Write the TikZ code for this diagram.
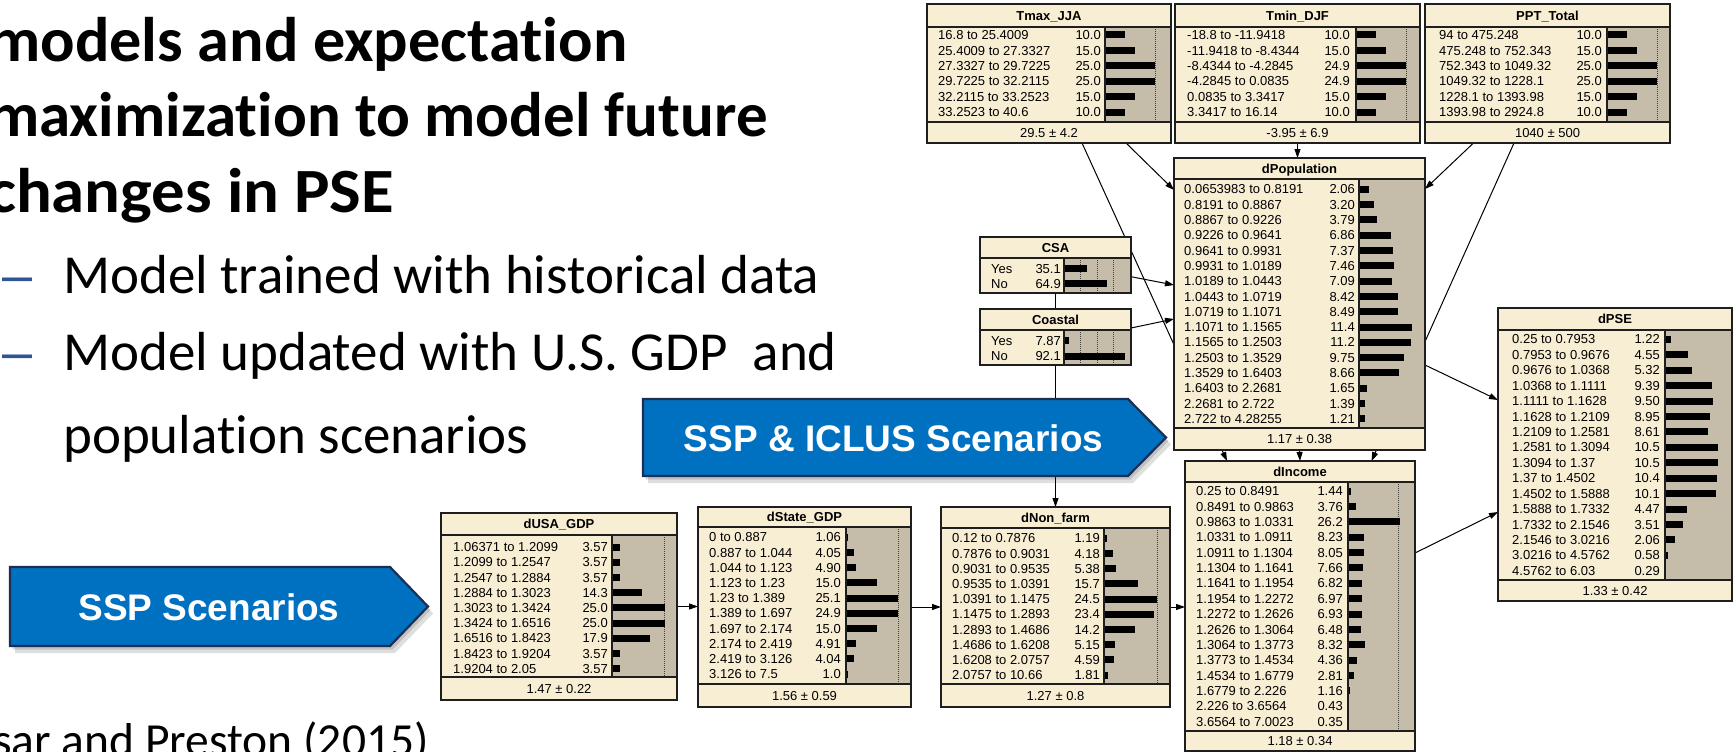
\documentclass[tikz,border=0pt]{standalone}
\usepackage{graphicx}
\usepackage{fontspec}
\setmainfont{Liberation Sans}
\newfontfamily\slidefont[Ligatures={NoCommon}]{Carlito}
\newfontfamily\dashfont{Liberation Sans}
\usetikzlibrary{arrows.meta,fit,calc}
\pgfdeclarelayer{bgzero}
\pgfdeclarelayer{connlayer}
\pgfsetlayers{bgzero,connlayer,main}

\definecolor{cream}{HTML}{F8EED4}
\definecolor{hgray}{HTML}{C5BDA9}
\definecolor{edge}{HTML}{1E1E1E}
\definecolor{pptblue}{HTML}{0070C0}
\definecolor{navy}{HTML}{1B2F55}
\definecolor{dashblue}{HTML}{2F5597}

\tikzset{
  rowtxt/.style={font=\fontsize{13}{15}\selectfont, inner sep=0pt, text height=9.3pt, text depth=0pt},
  ttltxt/.style={font=\fontsize{13}{15}\selectfont\bfseries, inner sep=0pt, text height=9.3pt, text depth=0pt},
  ftxt/.style={font=\fontsize{13}{15}\selectfont, inner sep=0pt, text height=9.3pt, text depth=0pt},
  boxframe/.style={draw=edge, line width=1.5pt},
  sepline/.style={draw=edge, line width=1.2pt},
  gridline/.style={draw=black!75, line width=1pt, dash pattern=on 1pt off 1pt},
  conn/.style={draw=black, line width=1pt, -{Triangle[length=9pt,width=6pt]}},
  netnode/.style={inner sep=0pt, outer sep=0pt},
  banner/.style={fill=pptblue, draw=navy, line width=2.2pt, line join=miter},
  bshadow/.style={fill=black, opacity=0.13},
  bannertxt/.style={font=\fontsize{37}{44}\selectfont\bfseries, text=white, inner sep=0pt},
  headtxt/.style={font=\slidefont\bfseries\fontsize{63}{70}\selectfont, inner sep=0pt},
  bultxt/.style={font=\slidefont\fontsize{55}{60}\selectfont, inner sep=0pt},
  dashtxt/.style={font=\dashfont\fontsize{54}{60}\selectfont, text=dashblue, inner sep=0pt},
  citetxt/.style={font=\slidefont\fontsize{47.5}{52}\selectfont, inner sep=0pt},
}

% geometry: left, top, right, bottom, title-bottom, data-bottom, text-x, number-x, hist-x
\newcommand\NBgeom[9]{\def\nbL{#1}\def\nbT{#2}\def\nbR{#3}\def\nbB{#4}\def\nbTB{#5}\def\nbDB{#6}\def\nbTX{#7}\def\nbNX{#8}\def\nbHX{#9}}
% scale (px per %), first row y, row spacing
\newcommand\NBscale[3]{\def\nbSC{#1}\def\nbRY{#2}\def\nbRS{#3}}
% name, title, footer, dotted positions, rows
\newcommand\NBdraw[5]{%
  \coordinate (#1-nw) at (\nbL,\nbT);
  \coordinate (#1-se) at (\nbR,\nbB);
  \node[netnode, fit=(#1-nw)(#1-se)] (#1) {};
  \fill[cream] (\nbL,\nbT) rectangle (\nbR,\nbB);
  \fill[hgray] (\nbHX,\nbTB) rectangle (\nbR,\nbDB);
  \foreach \dd in {#4} {\draw[gridline] ({\nbHX+\dd*\nbSC},\nbTB) -- ({\nbHX+\dd*\nbSC},\nbDB);}
  \foreach \lab/\val [count=\i from 0] in {#5} {
    \pgfmathsetmacro\yy{\nbRY+\i*\nbRS}
    \node[rowtxt, anchor=west] (#1-l\i) at (\nbTX,\yy) {\lab};
    \node[rowtxt, anchor=east] (#1-v\i) at (\nbNX,\yy) {\val};
    \fill[black] (\nbHX,\yy-3.5) rectangle ({\nbHX+\val*\nbSC},\yy+3.5);
  }
  \draw[sepline] (\nbL,\nbTB) -- (\nbR,\nbTB);
  \draw[sepline] (\nbHX,\nbTB) -- (\nbHX,\nbDB);
  \if\relax\detokenize{#3}\relax\else
    \draw[sepline] (\nbL,\nbDB) -- (\nbR,\nbDB);
    \node[ftxt] (#1-foot) at ({(\nbL+\nbR)/2},{(\nbDB+\nbB)/2}) {#3};
  \fi
  \draw[boxframe] (\nbL,\nbT) rectangle (\nbR,\nbB);
  \node[ttltxt] (#1-title) at ({(\nbL+\nbR)/2},{(\nbT+\nbTB)/2}) {#2};
}

\begin{document}
\begin{tikzpicture}[x=1pt,y=-1pt]
\begin{pgfonlayer}{bgzero}
  \fill[white] (0,0) rectangle (1733,752);
\end{pgfonlayer}
\useasboundingbox (0,0) rectangle (1733,752);

% ---------- slide text ----------
\node[headtxt, anchor=base west] (h1) at (-12,61.4) {\scalebox{1.02}[1]{models and expectation}};
\node[headtxt, anchor=base west] (h2) at (-12,136.7) {maximization to model future};
\node[headtxt, anchor=base west] (h3) at (-12,212.5) {\scalebox{1.06}[1]{changes in PSE}};
\node[dashtxt, anchor=base west] (d1) at (2,293.5) {\textendash};
\node[bultxt, anchor=base west] (b1) at (63,293.5) {Model trained with historical data};
\node[dashtxt, anchor=base west] (d2) at (2,370) {\textendash};
\node[bultxt, anchor=base west] (b2) at (63,370) {Model updated with U.S. GDP\ \ and};
\node[bultxt, anchor=base west] (b3) at (63,453) {population scenarios};
\node[citetxt, anchor=base west] (cite) at (-7,756.5) {sar and Preston (2015)};

% ---------- network boxes ----------
\NBgeom{927}{4}{1171}{143}{27}{122}{938}{1101}{1105}
\NBscale{2.0}{35}{15.4}
\NBdraw{Tmax}{Tmax\_JJA}{29.5 ± 4.2}{25}{16.8 to 25.4009/10.0, 25.4009 to 27.3327/15.0, 27.3327 to 29.7225/25.0, 29.7225 to 32.2115/25.0, 32.2115 to 33.2523/15.0, 33.2523 to 40.6/10.0}

\NBgeom{1175}{4}{1420}{143}{27}{122}{1187}{1350}{1356}
\NBscale{2.0}{35}{15.4}
\NBdraw{Tmin}{Tmin\_DJF}{-3.95 ± 6.9}{25}{-18.8 to -11.9418/10.0, -11.9418 to -8.4344/15.0, -8.4344 to -4.2845/24.9, -4.2845 to 0.0835/24.9, 0.0835 to 3.3417/15.0, 3.3417 to 16.14/10.0}

\NBgeom{1425}{4}{1670}{143}{27}{122}{1439}{1602}{1607}
\NBscale{2.0}{35}{15.4}
\NBdraw{PPT}{PPT\_Total}{1040 ± 500}{25}{94 to 475.248/10.0, 475.248 to 752.343/15.0, 752.343 to 1049.32/25.0, 1049.32 to 1228.1/25.0, 1228.1 to 1393.98/15.0, 1393.98 to 2924.8/10.0}

\NBgeom{1174}{158}{1425}{450}{179}{428}{1184}{1355}{1359}
\NBscale{4.65}{189.3}{15.3}
\NBdraw{dPop}{dPopulation}{1.17 ± 0.38}{0}{0.0653983 to 0.8191/2.06, 0.8191 to 0.8867/3.20, 0.8867 to 0.9226/3.79, 0.9226 to 0.9641/6.86, 0.9641 to 0.9931/7.37, 0.9931 to 1.0189/7.46, 1.0189 to 1.0443/7.09, 1.0443 to 1.0719/8.42, 1.0719 to 1.1071/8.49, 1.1071 to 1.1565/11.4, 1.1565 to 1.2503/11.2, 1.2503 to 1.3529/9.75, 1.3529 to 1.6403/8.66, 1.6403 to 2.2681/1.65, 2.2681 to 2.722/1.39, 2.722 to 4.28255/1.21}

\NBgeom{980}{237}{1131}{293}{258}{293}{991}{1061}{1064}
\NBscale{0.66}{268.5}{15.3}
\NBdraw{CSA}{CSA}{}{25,50,75}{Yes/35.1, No/64.9}

\NBgeom{980}{309}{1131}{365}{330}{365}{991}{1061}{1064}
\NBscale{0.66}{340.7}{15.3}
\NBdraw{Coastal}{Coastal}{}{25,50,75}{Yes/7.87, No/92.1}

\NBgeom{1498}{308}{1732}{601}{330}{580}{1512}{1660}{1665}
\NBscale{5.0}{339.3}{15.43}
\NBdraw{dPSE}{dPSE}{1.33 ± 0.42}{0}{0.25 to 0.7953/1.22, 0.7953 to 0.9676/4.55, 0.9676 to 1.0368/5.32, 1.0368 to 1.1111/9.39, 1.1111 to 1.1628/9.50, 1.1628 to 1.2109/8.95, 1.2109 to 1.2581/8.61, 1.2581 to 1.3094/10.5, 1.3094 to 1.37/10.5, 1.37 to 1.4502/10.4, 1.4502 to 1.5888/10.1, 1.5888 to 1.7332/4.47, 1.7332 to 2.1546/3.51, 2.1546 to 3.0216/2.06, 3.0216 to 4.5762/0.58, 4.5762 to 6.03/0.29}

\NBgeom{1185}{461}{1415}{751}{482}{731}{1196}{1343}{1348}
\NBscale{2.0}{491}{15.38}
\NBdraw{dInc}{dIncome}{1.18 ± 0.34}{25}{0.25 to 0.8491/1.44, 0.8491 to 0.9863/3.76, 0.9863 to 1.0331/26.2, 1.0331 to 1.0911/8.23, 1.0911 to 1.1304/8.05, 1.1304 to 1.1641/7.66, 1.1641 to 1.1954/6.82, 1.1954 to 1.2272/6.97, 1.2272 to 1.2626/6.93, 1.2626 to 1.3064/6.48, 1.3064 to 1.3773/8.32, 1.3773 to 1.4534/4.36, 1.4534 to 1.6779/2.81, 1.6779 to 2.226/1.16, 2.226 to 3.6564/0.43, 3.6564 to 7.0023/0.35}

\NBgeom{441}{513}{677}{700}{535}{677}{453}{608}{612}
\NBscale{2.1}{547}{15.2}
\NBdraw{dUSA}{dUSA\_GDP}{1.47 ± 0.22}{25}{1.06371 to 1.2099/3.57, 1.2099 to 1.2547/3.57, 1.2547 to 1.2884/3.57, 1.2884 to 1.3023/14.3, 1.3023 to 1.3424/25.0, 1.3424 to 1.6516/25.0, 1.6516 to 1.8423/17.9, 1.8423 to 1.9204/3.57, 1.9204 to 2.05/3.57}

\NBgeom{698}{507}{911}{707}{527}{684}{709}{841}{846}
\NBscale{2.08}{537.3}{15.2}
\NBdraw{dState}{dState\_GDP}{1.56 ± 0.59}{25}{0 to 0.887/1.06, 0.887 to 1.044/4.05, 1.044 to 1.123/4.90, 1.123 to 1.23/15.0, 1.23 to 1.389/25.1, 1.389 to 1.697/24.9, 1.697 to 2.174/15.0, 2.174 to 2.419/4.91, 2.419 to 3.126/4.04, 3.126 to 7.5/1.0}

\NBgeom{941}{507}{1170}{707}{528}{684}{952}{1100}{1104}
\NBscale{2.15}{538.3}{15.2}
\NBdraw{dNon}{dNon\_farm}{1.27 ± 0.8}{25}{0.12 to 0.7876/1.19, 0.7876 to 0.9031/4.18, 0.9031 to 0.9535/5.38, 0.9535 to 1.0391/15.7, 1.0391 to 1.1475/24.5, 1.1475 to 1.2893/23.4, 1.2893 to 1.4686/14.2, 1.4686 to 1.6208/5.15, 1.6208 to 2.0757/4.59, 2.0757 to 10.66/1.81}

% ---------- connectors (behind boxes) ----------
\begin{pgfonlayer}{connlayer}
\draw[conn] ([xshift=77pt]Tmax.south) -- ([yshift=-32pt]dPop.north west);
\draw[conn] ([xshift=33pt]Tmax.south) -- ([xshift=-73pt]dInc.north);
\draw[conn] (Tmin.south) -- (Tmin.south |- dPop.north);
\draw[conn] ([xshift=-74pt]PPT.south) -- ([yshift=-31pt]dPop.north east);
\draw[conn] ([xshift=-33.5pt]PPT.south) -- ([xshift=71.5pt]dInc.north);
\draw[conn] ([yshift=-11.7pt]CSA.east) -- ([yshift=19pt]dPop.west);
\draw[conn] ([yshift=9pt]Coastal.east) -- ([yshift=-15pt]dPop.west);
\draw[conn] (CSA.south) -- (dNon.north);
\draw[conn] (dPop.south) -- (dInc.north);
\draw[conn] ([yshift=-61pt]dPop.east) -- ([yshift=54.5pt]dPSE.west);
\draw[conn] ([yshift=53pt]dInc.east) -- ([yshift=-57.5pt]dPSE.west);
\draw[conn] (dUSA.east) -- (dUSA.east -| dState.west);
\draw[conn] (dState.east) -- (dState.east -| dNon.west);
\draw[conn] (dNon.east) -- (dNon.east -| dInc.west);
\end{pgfonlayer}

% ---------- scenario banners ----------
\begin{scope}[xshift=5pt,yshift=-7pt]
  \fill[bshadow] (643,399) -- (1128,399) -- (1166,437.5) -- (1128,476) -- (643,476) -- cycle;
  \fill[bshadow] (10,567) -- (390,567) -- (428,606.5) -- (390,646) -- (10,646) -- cycle;
\end{scope}
\begin{scope}[xshift=2.5pt,yshift=-3.5pt]
  \fill[bshadow] (643,399) -- (1128,399) -- (1166,437.5) -- (1128,476) -- (643,476) -- cycle;
  \fill[bshadow] (10,567) -- (390,567) -- (428,606.5) -- (390,646) -- (10,646) -- cycle;
\end{scope}
\draw[banner] (643,399) -- (1128,399) -- (1166,437.5) -- (1128,476) -- (643,476) -- cycle;
\node[bannertxt] (iclus) at (893.5,438.5) {SSP \& ICLUS Scenarios};
\draw[banner] (10,567) -- (390,567) -- (428,606.5) -- (390,646) -- (10,646) -- cycle;
\node[bannertxt] (ssp) at (209,607.5) {SSP Scenarios};
\end{tikzpicture}
\end{document}
